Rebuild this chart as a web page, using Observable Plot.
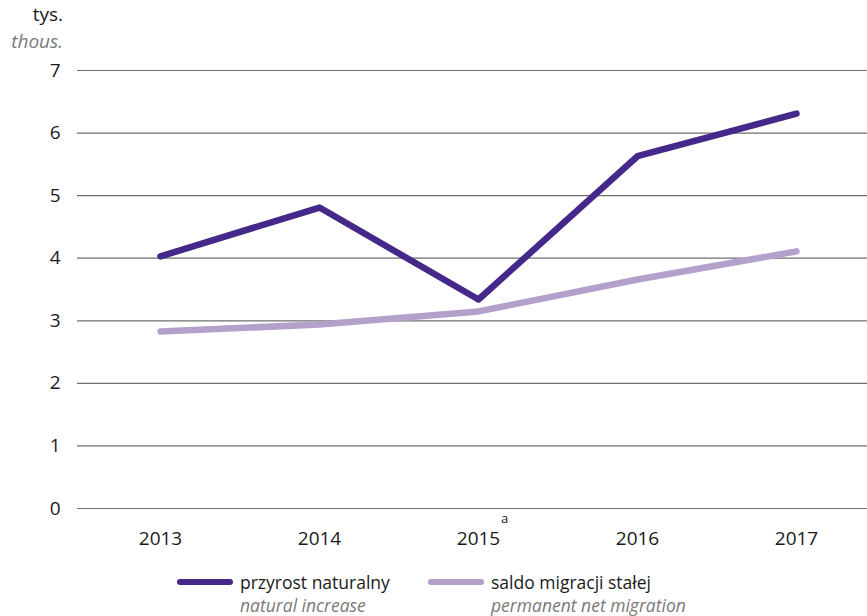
<!DOCTYPE html>
<html>
<head>
<meta charset="utf-8">
<script src="https://cdn.jsdelivr.net/npm/d3@7"></script>
<script src="https://cdn.jsdelivr.net/npm/@observablehq/plot@0.6"></script>
<style>
  body { margin: 0; background: #fff; font-family: "Open Sans", sans-serif; }
  #wrap { position: relative; width: 867px; height: 616px; }
  #unit { position: absolute; left: 0; top: 1px; width: 63px; text-align: right; font-size: 19px; line-height: 27px; color: #1a1a1a; }
  #unit .en { font-style: italic; color: #7a7a7a; }
  #chart { position: absolute; left: 0; top: 40px; }
  #legend { position: absolute; left: 0; top: 570px; width: 867px; font-size: 17.5px; color: #1a1a1a; }
  .item { position: absolute; top: 0; display: flex; align-items: flex-start; }
  .sw { width: 56px; height: 6px; border-radius: 3px; margin-top: 9px; margin-right: 7px; }
  .pl { line-height: 24px; height: 24px; }
  .en2 { font-style: italic; color: #7a7a7a; line-height: 24px; margin-top: -1px; }
</style>
</head>
<body>
<div id="wrap">
  <div id="unit"><div>tys.</div><div class="en">thous.</div></div>
  <div id="chart"></div>
  <div id="legend"></div>
</div>
<script>
const years = [2013, 2014, 2015, 2016, 2017];
const naturalIncrease = [4.03, 4.81, 3.34, 5.63, 6.31];
const netMigration = [2.83, 2.94, 3.15, 3.66, 4.11];
const yTicks = [0, 1, 2, 3, 4, 5, 6, 7];
const seriesNames = [
  {pl: "przyrost naturalny", en: "natural increase", color: "#45298a"},
  {pl: "saldo migracji stałej", en: "permanent net migration", color: "#b3a1cc"}
];

const data = [
  ...years.map((y, i) => ({year: y, value: naturalIncrease[i], s: 0})),
  ...years.map((y, i) => ({year: y, value: netMigration[i], s: 1}))
];

const plot = Plot.plot({
  width: 867,
  height: 518,
  marginLeft: 77,
  marginRight: 0,
  marginTop: 30,
  marginBottom: 50,
  style: {fontFamily: "Open Sans, sans-serif", fontSize: "19px", color: "#1a1a1a", background: "transparent"},
  x: {type: "point", domain: years, padding: 0.48, align: 0.54, label: null},
  y: {domain: [0, 7], label: null},
  marks: [
    Plot.ruleY(yTicks, {stroke: "#6f6f6f", strokeWidth: 1.2}),
    Plot.axisY(yTicks, {tickSize: 0, tickPadding: 17, tickFormat: d => d, fontSize: 19}),
    Plot.axisX(years, {tickSize: 0, tickPadding: 23, tickFormat: d => String(d), fontSize: 19}),
    Plot.text([2015], {x: d => d, frameAnchor: "bottom", text: () => "a", dx: 26, dy: 14, fontSize: 13, fill: "#1a1a1a"}),
    Plot.line(data.filter(d => d.s === 1), {x: "year", y: "value", stroke: seriesNames[1].color, strokeWidth: 6.5, strokeLinecap: "round", strokeLinejoin: "round"}),
    Plot.line(data.filter(d => d.s === 0), {x: "year", y: "value", stroke: seriesNames[0].color, strokeWidth: 6.5, strokeLinecap: "round", strokeLinejoin: "round"})
  ]
});
document.getElementById("chart").appendChild(plot);

const legend = document.getElementById("legend");
const lefts = [177, 428];
seriesNames.forEach((s, i) => {
  const item = document.createElement("div");
  item.className = "item";
  item.style.left = lefts[i] + "px";
  item.innerHTML = `<div class="sw" style="background:${s.color}"></div><div><div class="pl">${s.pl}</div><div class="en2">${s.en}</div></div>`;
  legend.appendChild(item);
});
</script>
</body>
</html>
